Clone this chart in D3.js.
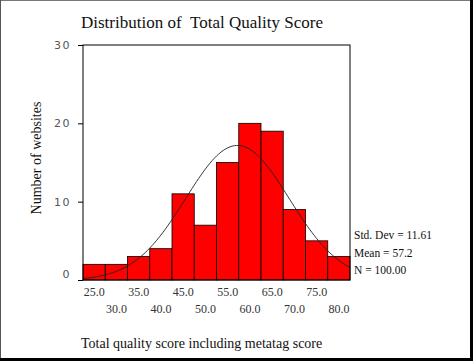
<!DOCTYPE html>
<html>
<head>
<meta charset="utf-8">
<script src="https://cdn.jsdelivr.net/npm/d3@7"></script>
<style>
  body { margin: 0; background: #fff; }
  svg { display: block; }
</style>
</head>
<body>
<svg id="chart" width="473" height="361"></svg>
<script>
// bin centres of the histogram and counts
const binCenters = [25, 30, 35, 40, 45, 50, 55, 60, 65, 70, 75, 80];
const counts = [2, 2, 3, 4, 11, 7, 15, 20, 19, 9, 5, 3];
const yTicks = [0, 10, 20, 30];
const xTickLabels = ["25.0", "30.0", "35.0", "40.0", "45.0", "50.0", "55.0", "60.0", "65.0", "70.0", "75.0", "80.0"];
const statLines = ["Std. Dev = 11.61", "Mean = 57.2", "N = 100.00"];
const meanVal = 57.2;
const sdVal = 11.61;
const nVal = 100;
const binWidth = 5;

const svg = d3.select("#chart");
const serif = "'Liberation Serif', 'Times New Roman', serif";

svg.append("rect").attr("width", 473).attr("height", 361).attr("fill", "#fff");

const x = d3.scaleLinear().domain([22.5, 82.5]).range([83, 350]);
const y = d3.scaleLinear().domain([0, 30]).range([280, 45]);

// bars
svg.selectAll("rect.bar")
    .data(binCenters)
    .enter()
    .append("rect")
    .attr("class", "bar")
    .attr("x", d => x(d - binWidth / 2))
    .attr("y", (d, i) => y(counts[i]))
    .attr("width", d => x(d + binWidth / 2) - x(d - binWidth / 2))
    .attr("height", (d, i) => y(0) - y(counts[i]))
    .attr("fill", "#ff0000")
    .attr("stroke", "#000")
    .attr("stroke-width", 0.8);

// fitted normal curve from the mean / std dev shown on the chart
const curvePts = d3.range(22.5, 82.51, 0.5).map(v => {
    const z = (v - meanVal) / sdVal;
    return [v, nVal * binWidth / (sdVal * Math.sqrt(2 * Math.PI)) * Math.exp(-0.5 * z * z)];
});
svg.append("path")
    .datum(curvePts)
    .attr("fill", "none")
    .attr("stroke", "#222")
    .attr("stroke-width", 0.9)
    .attr("d", d3.line().x(d => x(d[0])).y(d => y(d[1])).curve(d3.curveBasis));

// frame
svg.append("rect")
    .attr("x", 83).attr("y", 45)
    .attr("width", 267).attr("height", 235)
    .attr("fill", "none")
    .attr("stroke", "#000")
    .attr("stroke-width", 1);

// y axis
const yAxis = svg.append("g")
    .attr("transform", "translate(83,0)")
    .call(d3.axisLeft(y).tickValues(yTicks).tickSize(5).tickPadding(7));
yAxis.select(".domain").remove();
yAxis.selectAll("line").attr("stroke", "#000");
yAxis.selectAll("text")
    .attr("font-family", "'DejaVu Sans', Verdana, sans-serif")
    .attr("font-size", 11)
    .attr("letter-spacing", 1.5)
    .attr("fill", "#555")
    .attr("dy", d => d === 0 ? "-0.2em" : "0.32em");

// x tick labels, staggered in two rows
svg.selectAll("text.xlab")
    .data(binCenters)
    .enter()
    .append("text")
    .attr("class", "xlab")
    .attr("x", d => x(d))
    .attr("y", (d, i) => i % 2 === 0 ? 296 : 313)
    .attr("text-anchor", "middle")
    .attr("font-family", serif)
    .attr("font-size", 12)
    .attr("fill", "#333")
    .text((d, i) => xTickLabels[i]);

// stats
svg.selectAll("text.stat")
    .data(statLines)
    .enter()
    .append("text")
    .attr("class", "stat")
    .attr("x", 354)
    .attr("y", (d, i) => 239 + i * 17.5)
    .attr("font-family", serif)
    .attr("font-size", 11.5)
    .attr("fill", "#111")
    .text(d => d);

// titles
svg.append("text")
    .attr("x", 81).attr("y", 28)
    .attr("font-family", serif)
    .attr("font-size", 17)
    .attr("fill", "#111")
    .text("Distribution of \u00a0Total Quality Score");

svg.append("text")
    .attr("transform", "translate(41,158) rotate(-90)")
    .attr("text-anchor", "middle")
    .attr("font-family", serif)
    .attr("font-size", 14)
    .attr("fill", "#111")
    .text("Number of websites");

svg.append("text")
    .attr("x", 81).attr("y", 348)
    .attr("font-family", serif)
    .attr("font-size", 14)
    .attr("fill", "#111")
    .text("Total quality score including metatag score");

// picture border
svg.append("line").attr("x1", 0).attr("x2", 473).attr("y1", 0.5).attr("y2", 0.5).attr("stroke", "#777");
svg.append("line").attr("x1", 0.5).attr("x2", 0.5).attr("y1", 0).attr("y2", 361).attr("stroke", "#555");
svg.append("rect").attr("x", 470).attr("y", 0).attr("width", 3).attr("height", 361).attr("fill", "#000");
svg.append("rect").attr("x", 0).attr("y", 358).attr("width", 473).attr("height", 3).attr("fill", "#000");
</script>
</body>
</html>
